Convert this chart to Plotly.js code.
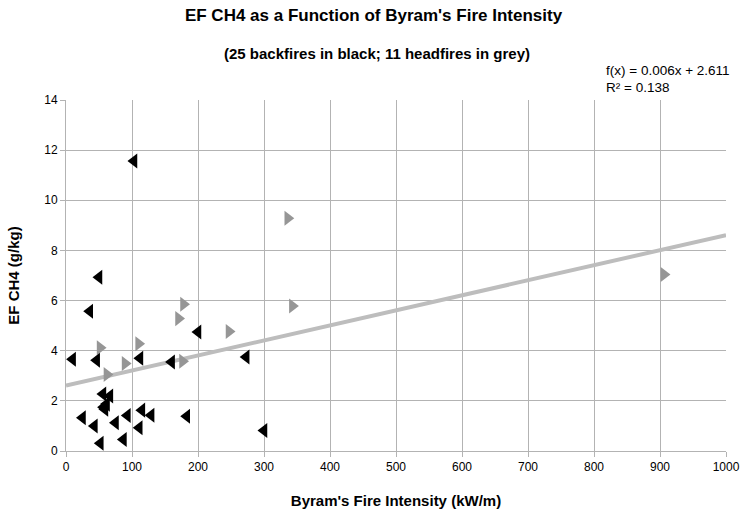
<!DOCTYPE html>
<html><head><meta charset="utf-8">
<script src="https://cdn.plot.ly/plotly-3.0.1.min.js"></script>
<style>html,body{margin:0;padding:0;background:#fff}#chart{width:747px;height:518px}</style>
</head><body><div id="chart"></div>
<script>
// Backfires (black, left-pointing triangles)
var backX = [36, 200, 10, 46.5, 112, 160, 273, 56, 66.5, 61.5, 59, 25, 43, 52, 75, 93, 87, 111, 115, 129, 183, 300, 103, 50, 57];
var backY = [5.57, 4.75, 3.66, 3.62, 3.70, 3.55, 3.75, 2.27, 2.19, 1.87, 1.67, 1.33, 1.0, 0.31, 1.13, 1.42, 0.46, 0.93, 1.63, 1.43, 1.39, 0.82, 11.57, 6.93, 1.75];
// Headfires (grey, right-pointing triangles)
var headX = [178, 343, 170.5, 247, 51.6, 110, 89.5, 176.5, 62, 336, 906];
var headY = [5.85, 5.78, 5.28, 4.77, 4.12, 4.28, 3.49, 3.58, 3.05, 9.28, 7.04];
// Linear trend line f(x) = slope*x + intercept
var trendSlope = 0.006;
var trendIntercept = 2.611;
var trendX = [0, 1000];
var trendY = trendX.map(function(x){ return trendSlope * x + trendIntercept; });
var xTicks = [0,100,200,300,400,500,600,700,800,900,1000];
var yTicks = [0,2,4,6,8,10,12,14];

var traces = [
  {x: trendX, y: trendY, mode: 'lines', line: {color: '#bdbdbd', width: 4}, hoverinfo: 'skip'},
  {x: headX, y: headY, mode: 'markers', marker: {symbol: 'triangle-right', size: 13, color: '#969696'}},
  {x: backX, y: backY, mode: 'markers', marker: {symbol: 'triangle-left', size: 13, color: '#000000'}}
];

var FONT = 'Liberation Sans, Arial, sans-serif';
var layout = {
  width: 747, height: 518,
  margin: {l: 66, r: 21, t: 99.5, b: 67},
  paper_bgcolor: '#ffffff', plot_bgcolor: '#ffffff',
  showlegend: false,
  font: {family: FONT, color: '#000', size: 12},
  title: {text: "EF CH4 as a Function of Byram's Fire Intensity", font: {size: 17, family: FONT, weight: 'bold'}, x: 0.5, xanchor: 'center', y: 0.971, yanchor: 'middle', yref: 'container'},
  xaxis: {
    range: [0, 1000], tickvals: xTicks, ticktext: xTicks.map(String),
    showgrid: true, gridcolor: '#b3b3b3', gridwidth: 1,
    zeroline: false, showline: true, linecolor: '#b3b3b3', linewidth: 1,
    ticks: 'outside', ticklen: 5, tickcolor: '#b3b3b3',
    tickfont: {size: 12},
    title: {text: "Byram's Fire Intensity (kW/m)", font: {size: 15, weight: 'bold'}, standoff: 22}
  },
  yaxis: {
    range: [0, 14], tickvals: yTicks, ticktext: yTicks.map(String),
    showgrid: true, gridcolor: '#b3b3b3', gridwidth: 1,
    zeroline: false, showline: true, linecolor: '#b3b3b3', linewidth: 1,
    ticks: 'outside', ticklen: 5, tickcolor: '#b3b3b3',
    tickfont: {size: 12},
    title: {text: 'EF CH4 (g/kg)', font: {size: 15, weight: 'bold'}, standoff: 20}
  },
  annotations: [
    {text: '(25 backfires in black; 11 headfires in grey)', xref: 'paper', yref: 'paper', x: 0.5, y: 0, xanchor: 'center', yanchor: 'middle', showarrow: false, font: {size: 15, weight: 'bold'}},
    {text: 'f(x) = 0.006x + 2.611', xref: 'paper', yref: 'paper', x: 0, y: 0, xanchor: 'left', yanchor: 'middle', showarrow: false, font: {size: 13.5}},
    {text: 'R² = 0.138', xref: 'paper', yref: 'paper', x: 0, y: 0, xanchor: 'left', yanchor: 'middle', showarrow: false, font: {size: 13.5}}
  ]
};
// position annotations in pixel terms relative to plot area
var plotH = 518 - 99.5 - 67, plotW = 747 - 66 - 21;
function py(pix){ return (451 - pix) / plotH; }
function px(pix){ return (pix - 66) / plotW; }
layout.annotations[0].x = px(377); layout.annotations[0].y = py(53);
layout.annotations[1].x = px(604); layout.annotations[1].y = py(70);
layout.annotations[2].x = px(604); layout.annotations[2].y = py(87);

Plotly.newPlot('chart', traces, layout, {displayModeBar: false, staticPlot: true});
</script></body></html>
